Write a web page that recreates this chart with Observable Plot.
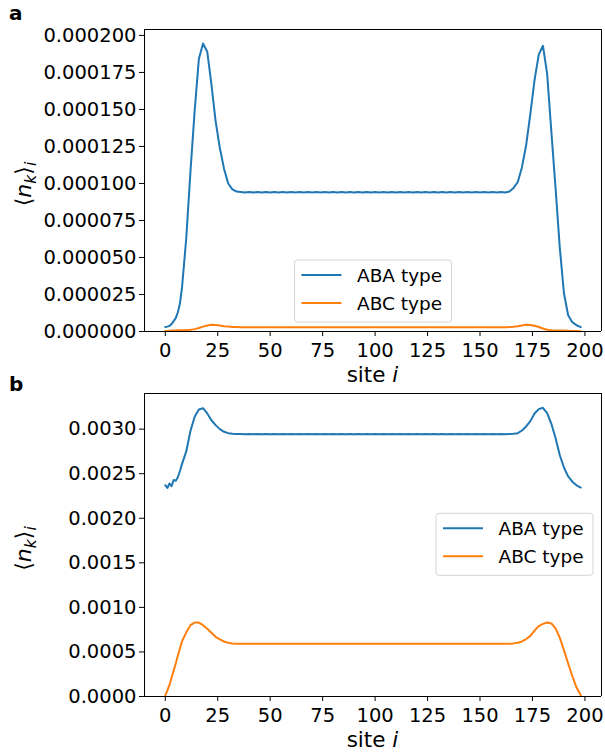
<!DOCTYPE html>
<html><head><meta charset="utf-8">
<script src="https://cdn.jsdelivr.net/npm/d3@7"></script>
<script src="https://cdn.jsdelivr.net/npm/@observablehq/plot@0.6"></script>
<style>
body{margin:0;background:#fff;width:605px;height:756px;overflow:hidden;font-family:"DejaVu Sans",sans-serif}
#wrap{position:relative;width:605px;height:756px}
#wrap svg{position:absolute;left:0;display:block;max-width:none}
</style></head><body><div id="wrap"></div>
<script>
// ---------- data ----------
const seriesNames = ["ABA type", "ABC type"];
const seriesColors = ["#1f77b4", "#ff7f0e"];
const xTicks = [0, 25, 50, 75, 100, 125, 150, 175, 200];
const yTicksA = [0, 0.000025, 0.00005, 0.000075, 0.0001, 0.000125, 0.00015, 0.000175, 0.0002];
const yTicksB = [0, 0.0005, 0.001, 0.0015, 0.002, 0.0025, 0.003];

const sites = [0,1,2,3,4,5,6,7,8,10,12,14,16,18,20,22,24,26,28,30,32,34,
36,38,40,42,44,46,48,50,52,54,56,58,60,62,64,66,68,70,72,74,76,78,80,82,84,86,88,90,92,94,96,98,
100,102,104,106,108,110,112,114,116,118,120,122,124,126,128,130,132,134,136,138,140,142,144,146,148,150,152,154,156,158,160,162,
164,166,168,170,172,174,176,178,180,182,184,186,188,190,192,194,196,198];

// panel a
const abaA = [3.0e-6,3.3e-6,3.8e-6,5.0e-6,7.0e-6,9.0e-6,13e-6,19e-6,30e-6,63e-6,108e-6,149e-6,184e-6,194.5e-6,189e-6,167e-6,142e-6,124e-6,110e-6,100e-6,96e-6,94.5e-6,
94.3e-6,93.9e-6,94.3e-6,93.9e-6,94.3e-6,93.9e-6,94.3e-6,93.9e-6,
94.3e-6,93.9e-6,94.3e-6,93.9e-6,94.3e-6,93.9e-6,94.3e-6,93.9e-6,
94.3e-6,93.9e-6,94.3e-6,93.9e-6,94.3e-6,93.9e-6,94.3e-6,93.9e-6,
94.3e-6,93.9e-6,94.3e-6,93.9e-6,94.3e-6,93.9e-6,94.3e-6,93.9e-6,
94.3e-6,93.9e-6,94.3e-6,93.9e-6,94.3e-6,93.9e-6,94.3e-6,93.9e-6,
94.3e-6,93.9e-6,94.3e-6,93.9e-6,94.3e-6,93.9e-6,94.3e-6,93.9e-6,
94.3e-6,93.9e-6,94.3e-6,93.9e-6,94.3e-6,93.9e-6,94.3e-6,93.9e-6,
94.3e-6,93.9e-6,94.3e-6,93.9e-6,94.3e-6,93.9e-6,94.3e-6,93.9e-6,
94.5e-6,97e-6,101e-6,111e-6,126e-6,147e-6,170e-6,187e-6,193e-6,174e-6,135e-6,97e-6,57e-6,26e-6,11e-6,6.3e-6,4.2e-6,2.9e-6];

const abcA = [0.3e-6,0.4e-6,0.5e-6,0.6e-6,0.7e-6,0.7e-6,0.8e-6,0.8e-6,0.8e-6,0.9e-6,1.1e-6,1.6e-6,2.4e-6,3.3e-6,4.1e-6,4.5e-6,4.4e-6,4.0e-6,3.6e-6,3.3e-6,3.1e-6,3.0e-6,
2.9e-6,2.9e-6,2.9e-6,2.9e-6,2.9e-6,2.9e-6,2.9e-6,2.9e-6,
2.9e-6,2.9e-6,2.9e-6,2.9e-6,2.9e-6,2.9e-6,2.9e-6,2.9e-6,
2.9e-6,2.9e-6,2.9e-6,2.9e-6,2.9e-6,2.9e-6,2.9e-6,2.9e-6,
2.9e-6,2.9e-6,2.9e-6,2.9e-6,2.9e-6,2.9e-6,2.9e-6,2.9e-6,
2.9e-6,2.9e-6,2.9e-6,2.9e-6,2.9e-6,2.9e-6,2.9e-6,2.9e-6,
2.9e-6,2.9e-6,2.9e-6,2.9e-6,2.9e-6,2.9e-6,2.9e-6,2.9e-6,
2.9e-6,2.9e-6,2.9e-6,2.9e-6,2.9e-6,2.9e-6,2.9e-6,2.9e-6,
2.9e-6,2.9e-6,2.9e-6,2.9e-6,2.9e-6,2.9e-6,2.9e-6,2.9e-6,
3.0e-6,3.2e-6,3.6e-6,4.1e-6,4.5e-6,4.4e-6,3.9e-6,3.0e-6,2.0e-6,1.2e-6,0.8e-6,0.7e-6,0.6e-6,0.6e-6,0.5e-6,0.4e-6,0.3e-6,0.2e-6];

// panel b
const abaB = [2.371e-3,2.340e-3,2.390e-3,2.360e-3,2.430e-3,2.420e-3,2.460e-3,2.530e-3,2.610e-3,2.750e-3,2.980e-3,3.140e-3,3.220e-3,3.235e-3,3.176e-3,3.100e-3,3.045e-3,3.000e-3,2.970e-3,2.955e-3,2.948e-3,2.945e-3,
2.946e-3,2.942e-3,2.946e-3,2.942e-3,2.946e-3,2.942e-3,2.946e-3,2.942e-3,
2.946e-3,2.942e-3,2.946e-3,2.942e-3,2.946e-3,2.942e-3,2.946e-3,2.942e-3,
2.946e-3,2.942e-3,2.946e-3,2.942e-3,2.946e-3,2.942e-3,2.946e-3,2.942e-3,
2.946e-3,2.942e-3,2.946e-3,2.942e-3,2.946e-3,2.942e-3,2.946e-3,2.942e-3,
2.946e-3,2.942e-3,2.946e-3,2.942e-3,2.946e-3,2.942e-3,2.946e-3,2.942e-3,
2.946e-3,2.942e-3,2.946e-3,2.942e-3,2.946e-3,2.942e-3,2.946e-3,2.942e-3,
2.946e-3,2.942e-3,2.946e-3,2.942e-3,2.946e-3,2.942e-3,2.946e-3,2.942e-3,
2.946e-3,2.942e-3,2.946e-3,2.942e-3,2.946e-3,2.942e-3,2.946e-3,2.942e-3,
2.946e-3,2.948e-3,2.955e-3,2.985e-3,3.030e-3,3.090e-3,3.175e-3,3.225e-3,3.240e-3,3.180e-3,3.060e-3,2.900e-3,2.710e-3,2.570e-3,2.470e-3,2.410e-3,2.370e-3,2.345e-3];

const abcB = [0.011e-3,0.07e-3,0.13e-3,0.21e-3,0.29e-3,0.37e-3,0.46e-3,0.54e-3,0.62e-3,0.72e-3,0.80e-3,0.83e-3,0.83e-3,0.80e-3,0.76e-3,0.715e-3,0.67e-3,0.64e-3,0.617e-3,0.602e-3,0.596e-3,0.593e-3,
0.592e-3,0.592e-3,0.592e-3,0.592e-3,0.592e-3,0.592e-3,0.592e-3,0.592e-3,
0.592e-3,0.592e-3,0.592e-3,0.592e-3,0.592e-3,0.592e-3,0.592e-3,0.592e-3,
0.592e-3,0.592e-3,0.592e-3,0.592e-3,0.592e-3,0.592e-3,0.592e-3,0.592e-3,
0.592e-3,0.592e-3,0.592e-3,0.592e-3,0.592e-3,0.592e-3,0.592e-3,0.592e-3,
0.592e-3,0.592e-3,0.592e-3,0.592e-3,0.592e-3,0.592e-3,0.592e-3,0.592e-3,
0.592e-3,0.592e-3,0.592e-3,0.592e-3,0.592e-3,0.592e-3,0.592e-3,0.592e-3,
0.592e-3,0.592e-3,0.592e-3,0.592e-3,0.592e-3,0.592e-3,0.592e-3,0.592e-3,
0.592e-3,0.592e-3,0.592e-3,0.592e-3,0.592e-3,0.592e-3,0.592e-3,0.592e-3,
0.593e-3,0.596e-3,0.604e-3,0.618e-3,0.645e-3,0.68e-3,0.74e-3,0.79e-3,0.815e-3,0.83e-3,0.82e-3,0.765e-3,0.66e-3,0.52e-3,0.37e-3,0.23e-3,0.10e-3,0.015e-3];

// ---------- drawing ----------
const FONT = "DejaVu Sans";
const xDomain = [-9.9, 207.9];

function rows(aba, abc) {
  const out = [];
  sites.forEach((s, i) => out.push({site: s, value: aba[i], series: seriesNames[0]}));
  sites.forEach((s, i) => out.push({site: s, value: abc[i], series: seriesNames[1]}));
  return out;
}

function panel(cfg) {
  const data = rows(cfg.aba, cfg.abc);
  const yMax = cfg.yDomain[1];
  const svg = Plot.plot({
    width: 605, height: cfg.height,
    marginTop: cfg.mt, marginBottom: cfg.mb, marginLeft: 144, marginRight: 4,
    style: {fontFamily: FONT, fontSize: "19.5px", background: "transparent", overflow: "visible", color: "#000"},
    x: {domain: xDomain},
    y: {domain: cfg.yDomain},
    color: {domain: seriesNames, range: seriesColors},
    marks: [
      Plot.axisX({ticks: xTicks, tickSize: 5, tickPadding: 7, tickFormat: d => String(d), label: null, fontSize: 19.5}),
      Plot.axisY({ticks: cfg.yTicks, tickSize: 5, tickPadding: 3, tickFormat: cfg.yFmt, label: null, fontSize: 19.5}),
      Plot.line(data, {x: "site", y: "value", z: "series", stroke: "series", strokeWidth: 2, curve: "linear"}),
      Plot.ruleX([xDomain[0], xDomain[1]], {stroke: "#000", strokeWidth: 1}),
      Plot.ruleY([0, yMax], {stroke: "#000", strokeWidth: 1})
    ]
  });
  svg.style.top = cfg.top + "px";
  const g = d3.select(svg);
  const top = cfg.mt, bottom = cfg.height - cfg.mb;
  // panel letter
  g.append("text").attr("x", 9).attr("y", cfg.letterY).attr("text-anchor", "start")
    .attr("font-family", FONT).attr("font-weight", "bold").attr("font-size", 20)
    .attr("fill", "#000").text(cfg.letter);
  // y label  <n_k>_i
  const yl = g.append("text")
    .attr("transform", `translate(31,${(top + bottom) / 2 + 4}) rotate(-90)`)
    .attr("text-anchor", "middle").attr("font-family", FONT).attr("font-size", 22).attr("fill", "#000");
  yl.append("tspan").text("\u27E8");
  yl.append("tspan").attr("font-style", "italic").text("n");
  yl.append("tspan").attr("font-style", "italic").attr("font-size", 15.5).attr("dy", 4.5).text("k");
  yl.append("tspan").attr("dy", -4.5).text("\u27E9");
  yl.append("tspan").attr("font-style", "italic").attr("font-size", 15.5).attr("dy", 4.5).text("i");
  // x label
  const xl = g.append("text").attr("x", 372.5).attr("y", bottom + 51)
    .attr("text-anchor", "middle").attr("font-family", FONT).attr("font-size", 21.5).attr("fill", "#000");
  xl.append("tspan").text("site ");
  xl.append("tspan").attr("font-style", "italic").text("i");
  // legend
  const L = cfg.legend;
  const lg = g.append("g").attr("transform", `translate(${L.x},${L.y})`);
  lg.append("rect").attr("x", 0).attr("y", 0).attr("width", 157).attr("height", 62).attr("rx", 3)
    .attr("fill", "#fff").attr("fill-opacity", 0.8).attr("stroke", "#d4d4d4").attr("stroke-width", 1);
  seriesNames.forEach((name, i) => {
    const yy = 15 + i * 28;
    lg.append("line").attr("x1", 7).attr("x2", 47).attr("y1", yy).attr("y2", yy)
      .attr("stroke", seriesColors[i]).attr("stroke-width", 2);
    lg.append("text").attr("x", 62.5).attr("y", yy).attr("dy", "0.36em").attr("text-anchor", "start")
      .attr("font-family", FONT).attr("font-size", 18.5).attr("fill", "#000").text(name);
  });
  return svg;
}

const wrap = document.getElementById("wrap");
wrap.appendChild(panel({
  aba: abaA, abc: abcA, yDomain: [0, 0.000204], yTicks: yTicksA, yFmt: d => d.toFixed(6),
  height: 378, mt: 29, mb: 47, top: 0, letter: "a", letterY: 20,
  legend: {x: 294.5, y: 260}
}));
wrap.appendChild(panel({
  aba: abaB, abc: abcB, yDomain: [0, 0.0034], yTicks: yTicksB, yFmt: d => d.toFixed(4),
  height: 378, mt: 15, mb: 60, top: 378, letter: "b", letterY: 12.7,
  legend: {x: 436, y: 135.3}
}));
</script></body></html>
